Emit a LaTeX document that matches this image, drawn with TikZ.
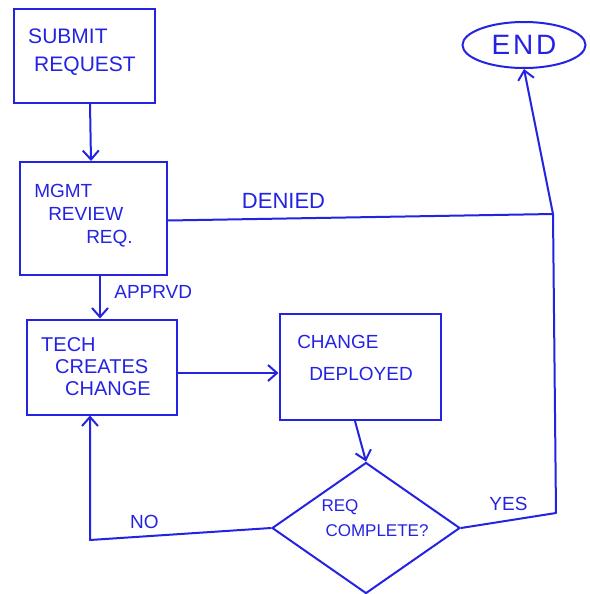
\documentclass[tikz,border=0pt]{standalone}
\usepackage{fontspec}
\setmainfont{Liberation Sans}
\usetikzlibrary{shapes.geometric,arrows.meta,calc}
\definecolor{pen}{RGB}{35,35,225}
\begin{document}
\begin{tikzpicture}[x=1pt,y=-1pt,
  every node/.style={text=pen},
  box/.style={draw=pen,line width=2pt,rectangle,inner sep=0pt},
  conn/.style={draw=pen,line width=2pt,line join=round},
  arr/.style={conn,-{Straight Barb[length=9pt,width=16pt]}},
  lbl/.style={font=\fontsize{19}{22}\selectfont},
  btxt/.style={font=\fontsize{21}{28}\selectfont,align=left}]
\useasboundingbox (0,0) rectangle (589,594);
\node[box,minimum width=141pt,minimum height=94pt,btxt] (submit) at (84,56)
  {\hspace*{-4pt}SUBMIT\\\hspace*{2pt}REQUEST\\[-16pt]\mbox{}};
\node[box,minimum width=147pt,minimum height=113pt,btxt,font=\fontsize{19}{23}\selectfont] (mgmt) at (93.5,218.5)
  {MGMT\\\hspace*{14pt}REVIEW\\\hspace*{52pt}REQ.\hspace*{20pt}\mbox{}\\[-14pt]\mbox{}};
\node[box,minimum width=150pt,minimum height=95pt,btxt,font=\fontsize{20}{22}\selectfont] (tech) at (102,367)
  {\hspace*{-12pt}TECH\\\hspace*{2pt}CREATES\\\hspace*{12pt}CHANGE};
\node[box,minimum width=161pt,minimum height=106pt,btxt,font=\fontsize{19}{32}\selectfont] (deploy) at (360,367)
  {\hspace*{-10pt}CHANGE\\\hspace*{2pt}DEPLOYED\\[-14pt]\mbox{}};
\node[draw=pen,line width=2pt,ellipse,minimum width=123pt,minimum height=46pt,inner sep=0pt,font=\fontsize{28}{30}\selectfont\addfontfeature{LetterSpace=10}] (endn) at (524,45) {END};
\node[draw=pen,line width=2pt,diamond,minimum width=188pt,minimum height=131pt,inner sep=0pt,font=\fontsize{17}{25}\selectfont] (dia) at (366,528)
  {\smash{\makebox[0pt]{\hspace*{18pt}\raisebox{5pt}{\begin{tabular}{@{}l@{}}REQ\\\hspace*{4pt}COMPLETE?\end{tabular}}}}};
\coordinate (j) at (553,214);
\coordinate (yc) at (556,513);
\coordinate (nc) at (90,540);
\draw[arr] ([xshift=6pt]submit.south) -- ([xshift=-2.5pt]mgmt.north);
\draw[arr] ([xshift=6.5pt]mgmt.south) -- node[lbl,right,xshift=10pt,yshift=5pt]{APPRVD} ([xshift=-2pt]tech.north);
\draw[arr] ([yshift=-6pt]tech.east) -- ([yshift=-6pt]deploy.west);
\draw[arr] ([xshift=-5pt]deploy.south) -- (dia.north);
\draw[arr] (dia.west) -- node[lbl,above,pos=0.7,yshift=3pt]{NO} (nc) -- (tech.south -| nc);
\draw[conn] (dia.east) -- node[lbl,above,pos=0.5,yshift=5pt]{YES} (yc) -- (j);
\draw[conn] ([yshift=-2pt]mgmt.east) -- node[lbl,above,pos=0.3,yshift=6pt,font=\fontsize{22}{24}\selectfont]{DENIED} (j);
\draw[arr] (j) -- (endn.south);
\end{tikzpicture}
\end{document}
